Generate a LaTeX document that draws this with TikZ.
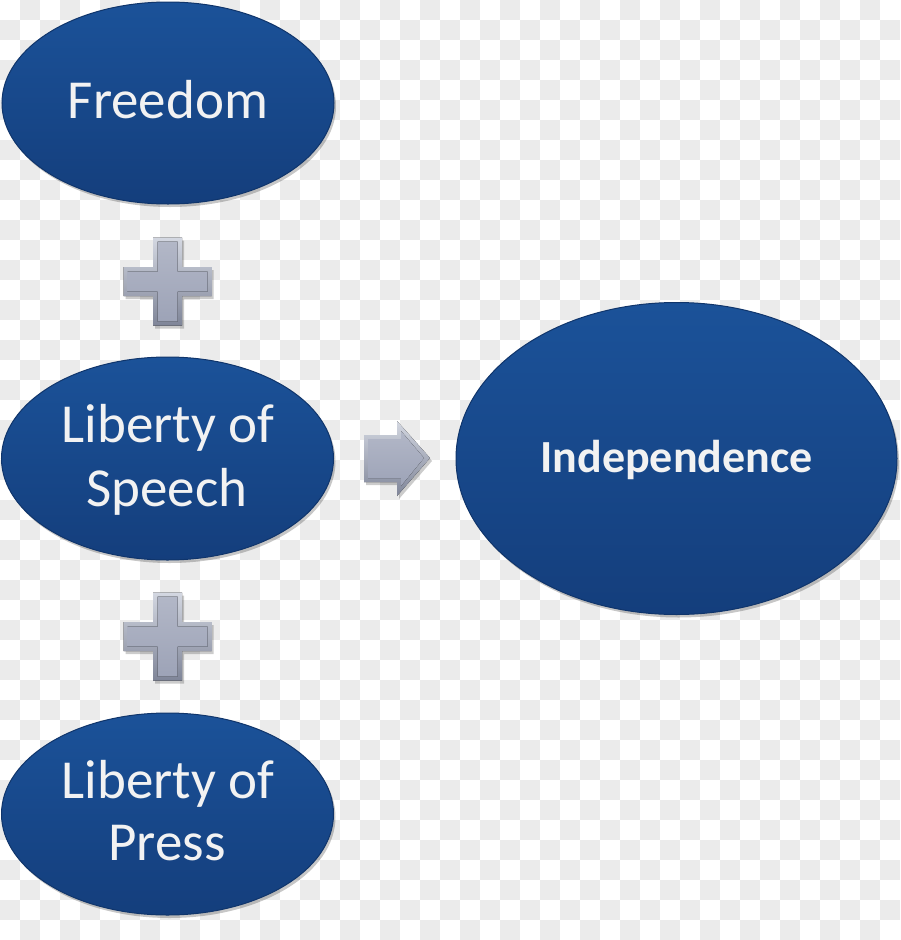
\documentclass[tikz,border=0pt]{standalone}
\usepackage{fontspec}
\setmainfont{Carlito}
\usetikzlibrary{shapes.geometric,shadows}
\definecolor{ovaltop}{HTML}{1B5299}
\definecolor{ovalbot}{HTML}{143E7C}
\definecolor{ovaledge}{HTML}{10356B}
\definecolor{checkgray}{HTML}{EBEBEB}
\definecolor{txtwhite}{HTML}{F2F2F2}
\definecolor{plushi}{HTML}{D3D7E1}
\definecolor{pluslo}{HTML}{7F8598}
\definecolor{plustop}{HTML}{B2B7C7}
\definecolor{plusbot}{HTML}{9DA3B7}
\tikzset{
  oval/.style={ellipse, inner sep=0pt, top color=ovaltop, bottom color=ovalbot,
    draw=ovaledge, line width=1pt,
    drop shadow={shadow xshift=2pt, shadow yshift=-3pt, opacity=0.22, fill=black}},
  lbl/.style={anchor=base, text=txtwhite, inner sep=0pt, font=\fontsize{55}{66}\selectfont},
  blbl/.style={anchor=base, text=txtwhite, inner sep=0pt, font=\bfseries\fontsize{46}{55}\selectfont},
  outerbevel/.style={top color=plushi, bottom color=pluslo,
    drop shadow={shadow xshift=2pt, shadow yshift=-3pt, opacity=0.2, fill=black}},
  innerbevel/.style={top color=plustop, bottom color=plusbot},
  plussign/.pic={
    \fill[outerbevel] (-14.5,-44) -- (14.5,-44) -- (14.5,-14.5) -- (44,-14.5) -- (44,14.5)
      -- (14.5,14.5) -- (14.5,44) -- (-14.5,44) -- (-14.5,14.5) -- (-44,14.5)
      -- (-44,-14.5) -- (-14.5,-14.5) -- cycle;
    \fill[innerbevel] (-10,-40) -- (10,-40) -- (10,-10) -- (40,-10) -- (40,10)
      -- (10,10) -- (10,40) -- (-10,40) -- (-10,10) -- (-40,10)
      -- (-40,-10) -- (-10,-10) -- cycle;
  }
}
\begin{document}
\begin{tikzpicture}[x=1pt,y=-1pt]
\useasboundingbox (0,0) rectangle (900,940);
\fill[white] (0,0) rectangle (900,940);
\foreach \i in {0,...,44} {
  \foreach \j in {0,...,46} {
    \pgfmathtruncatemacro{\cellpar}{mod(\i+\j,2)}
    \ifnum\cellpar=1 \fill[checkgray] (\i*20,\j*20) rectangle ++(20,20); \fi
  }
}
% ovals
\node[oval, minimum width=332pt, minimum height=202pt] (freedom) at (168,103) {};
\node[oval, minimum width=332pt, minimum height=203pt] (speech) at (167.5,458.5) {};
\node[oval, minimum width=332pt, minimum height=202pt] (press) at (167.5,814) {};
\node[oval, minimum width=441pt, minimum height=312pt] (indep) at (676.5,458.5) {};
% labels
\node[lbl] (freedomtxt) at (168,118) {Freedom};
\node[lbl] (speechtxta) at (168,442) {Liberty of};
\node[lbl] (speechtxtb) at (167,506) {Speech};
\node[lbl] (presstxta) at (168,798) {Liberty of};
\node[lbl] (presstxtb) at (167,860) {Press};
\node[blbl] (indeptxt) at (676.5,472) {Independence};
% plus signs
\pic at (167.5,281.5) {plussign};
\pic at (167.5,636.5) {plussign};
% arrow
\fill[outerbevel] (364,435) -- (397,435) -- (397,421) -- (430,458) -- (397,496)
  -- (397,482) -- (364,482) -- cycle;
\fill[innerbevel] (368,439) -- (401,439) -- (401,431) -- (424,458) -- (401,486)
  -- (401,478) -- (368,478) -- cycle;
\end{tikzpicture}
\end{document}
